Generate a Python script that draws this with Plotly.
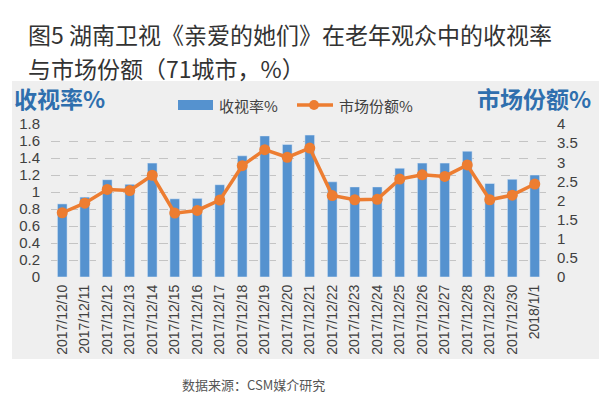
import plotly.graph_objects as go

dates = ["2017/12/10", "2017/12/11", "2017/12/12", "2017/12/13", "2017/12/14", "2017/12/15",
         "2017/12/16", "2017/12/17", "2017/12/18", "2017/12/19", "2017/12/20", "2017/12/21",
         "2017/12/22", "2017/12/23", "2017/12/24", "2017/12/25", "2017/12/26", "2017/12/27",
         "2017/12/28", "2017/12/29", "2017/12/30", "2018/1/1"]
rating = [0.86, 0.94, 1.145, 1.09, 1.34, 0.92, 0.925, 1.086, 1.426, 1.66, 1.56, 1.67,
          1.12, 1.06, 1.06, 1.28, 1.34, 1.34, 1.48, 1.10, 1.15, 1.20]
share = [1.68, 1.93, 2.29, 2.26, 2.66, 1.67, 1.74, 2.01, 2.91, 3.33, 3.13, 3.37,
         2.13, 2.02, 2.03, 2.56, 2.67, 2.63, 2.93, 2.02, 2.14, 2.43]
left_ticks = [0, 0.2, 0.4, 0.6, 0.8, 1.0, 1.2, 1.4, 1.6, 1.8]
left_text = ["0", "0.2", "0.4", "0.6", "0.8", "1", "1.2", "1.4", "1.6", "1.8"]
right_ticks = [0, 0.5, 1, 1.5, 2, 2.5, 3, 3.5, 4]
right_text = ["0", "0.5", "1", "1.5", "2", "2.5", "3", "3.5", "4"]
title_lines = ["图5 湖南卫视《亲爱的她们》在老年观众中的收视率", "与市场份额（71城市，%）"]

W, H = 610, 396
L, R, T, B = 51, 64, 124, 119
PW, PH = W - L - R, H - T - B

def px(x):
    return (x - L) / PW

def py(y):
    return (H - B - y) / PH

BLUE = "#5592cf"
ORANGE = "#ed7d31"
TITLE_BLUE = "#2f6fae"
CJK = "Noto Sans CJK SC"
NUM = "Liberation Sans, Arial, sans-serif"

fig = go.Figure()
fig.add_trace(go.Bar(x=dates, y=rating, name="收视率%", marker_color=BLUE, width=0.43, yaxis="y"))
fig.add_trace(go.Scatter(x=dates, y=share, name="市场份额%", mode="lines+markers",
                         line=dict(color=ORANGE, width=3.5),
                         marker=dict(color=ORANGE, size=11), yaxis="y2"))

shapes = [
    dict(type="rect", xref="paper", yref="paper", x0=px(12), x1=px(599), y0=py(359), y1=py(81),
         fillcolor="#efefef", line=dict(width=0), layer="below"),
    dict(type="rect", xref="paper", yref="paper", x0=px(178), x1=px(213), y0=py(110), y1=py(100),
         fillcolor=BLUE, line=dict(width=0)),
    dict(type="line", xref="paper", yref="paper", x0=px(297), x1=px(333), y0=py(105), y1=py(105),
         line=dict(color=ORANGE, width=3.5)),
    dict(type="circle", xref="paper", yref="paper", x0=px(309), x1=px(319), y0=py(110), y1=py(100),
         fillcolor=ORANGE, line=dict(width=0)),
]

annotations = [
    dict(text=title_lines[0], xref="paper", yref="paper", x=px(26), y=py(34), xanchor="left",
         yanchor="middle", showarrow=False, font=dict(family=CJK, size=23, color="#333333")),
    dict(text=title_lines[1], xref="paper", yref="paper", x=px(26), y=py(67.5), xanchor="left",
         yanchor="middle", showarrow=False, font=dict(family=CJK, size=23, color="#333333")),
    dict(text="收视率%", xref="paper", yref="paper", x=px(12), y=py(98), xanchor="left", yanchor="middle",
         showarrow=False, font=dict(family=CJK, size=23, color=TITLE_BLUE, weight="bold")),
    dict(text="市场份额%", xref="paper", yref="paper", x=px(593), y=py(98), xanchor="right", yanchor="middle",
         showarrow=False, font=dict(family=CJK, size=23, color=TITLE_BLUE, weight="bold")),
    dict(text="收视率%", xref="paper", yref="paper", x=px(217), y=py(105), xanchor="left", yanchor="middle",
         showarrow=False, font=dict(family=CJK, size=15, color="#404040")),
    dict(text="市场份额%", xref="paper", yref="paper", x=px(337), y=py(105), xanchor="left", yanchor="middle",
         showarrow=False, font=dict(family=CJK, size=15, color="#404040")),
    dict(text="数据来源：CSM媒介研究", xref="paper", yref="paper", x=px(253), y=py(384), xanchor="center",
         yanchor="middle", showarrow=False, font=dict(family=CJK, size=13, color="#555555")),
]

fig.update_layout(
    width=W, height=H,
    margin=dict(l=L, r=R, t=T, b=B, autoexpand=False),
    paper_bgcolor="white", plot_bgcolor="rgba(0,0,0,0)",
    showlegend=False,
    xaxis=dict(type="category", range=[-0.5, len(dates) - 0.5], tickangle=-90, showgrid=False,
               showline=False, zeroline=False, automargin=False,
               ticks="", tickfont=dict(family=NUM, size=14, color="#404040"), ticklabelstandoff=4),
    yaxis=dict(range=[0, 1.8], tickvals=left_ticks, ticktext=left_text, showgrid=True, automargin=False,
               gridcolor="#c4c4c4", griddash="dash", gridwidth=1, zeroline=False, showline=False,
               ticks="", ticklabelstandoff=10, tickfont=dict(family=NUM, size=15, color="#404040")),
    yaxis2=dict(range=[0, 4], tickvals=right_ticks, ticktext=right_text, overlaying="y", side="right",
                showgrid=False, zeroline=False, showline=False, ticks="", ticklabelstandoff=10,
                automargin=False, tickfont=dict(family=NUM, size=15, color="#404040")),
    shapes=shapes, annotations=annotations,
)

fig.write_html("out.html", config={"displayModeBar": False},
               post_script="document.body.style.margin='0';")
